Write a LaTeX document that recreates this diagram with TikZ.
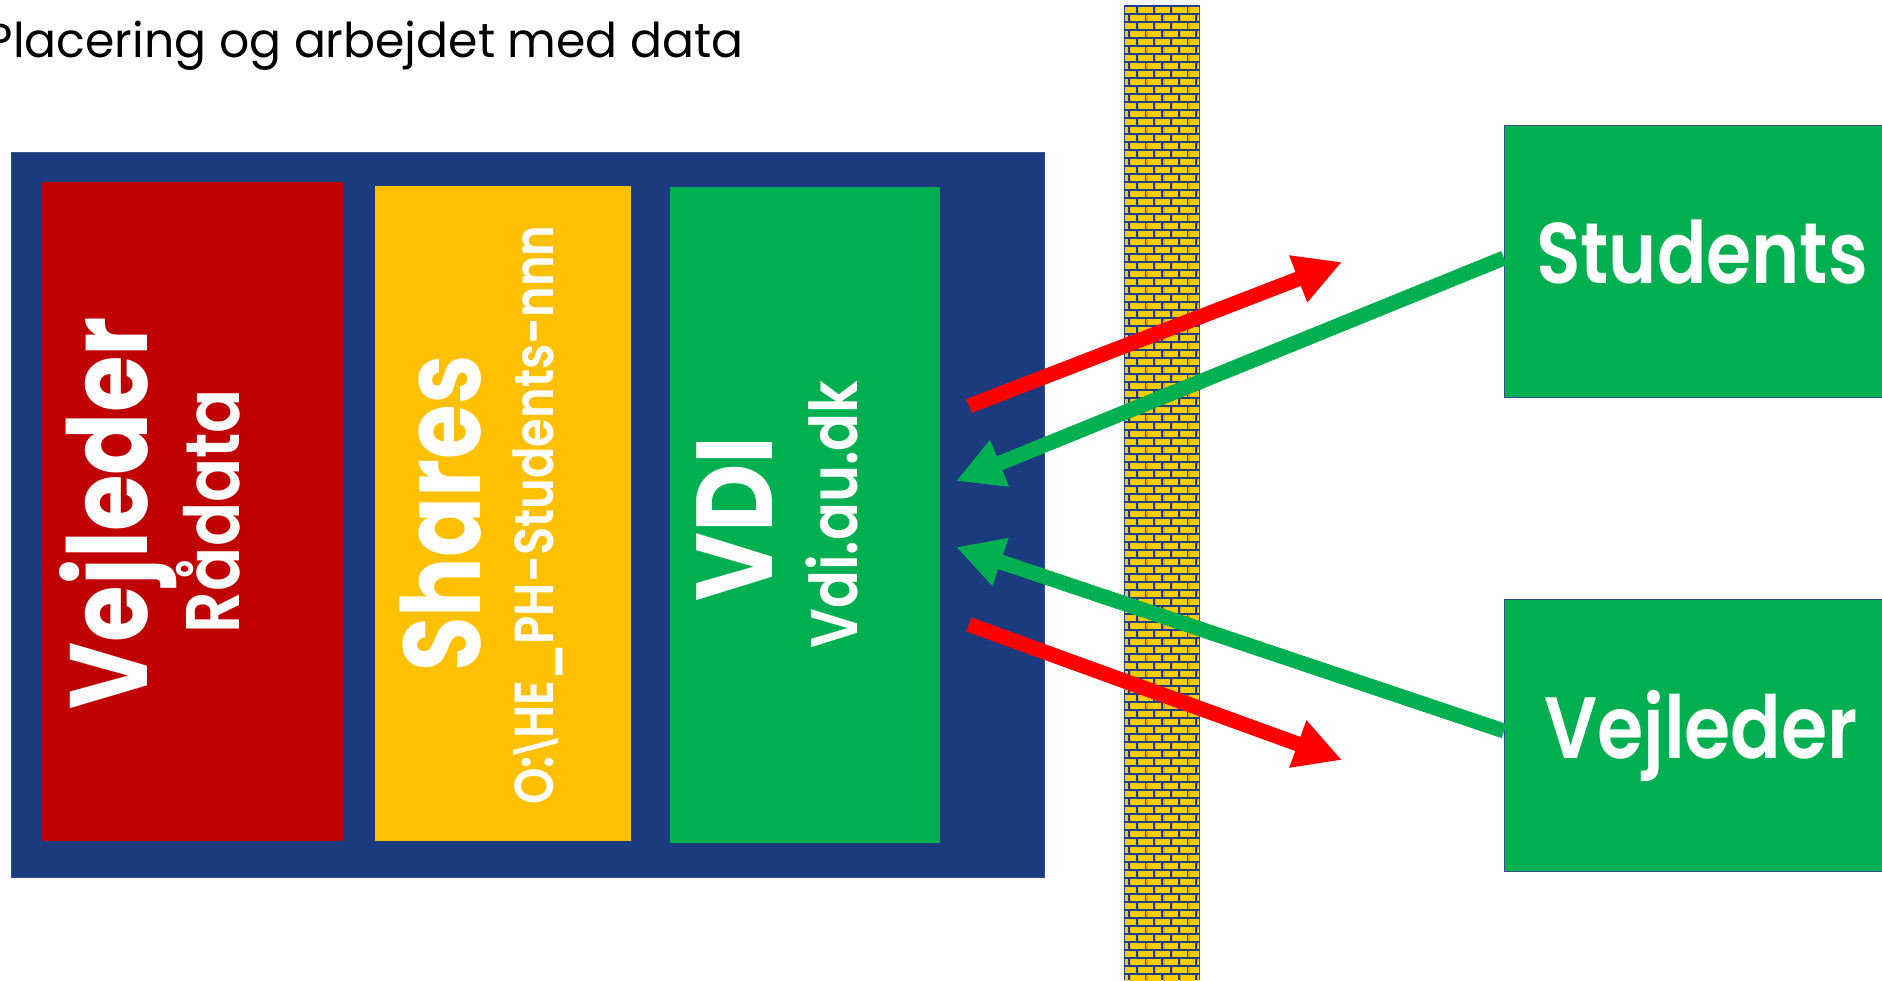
\documentclass[tikz,border=0pt]{standalone}
\usepackage{graphicx}
\usepackage{fontspec}
\usetikzlibrary{arrows.meta}
\setmainfont{Poppins}
\IfFontExistsTF{Poppins Medium}{\newfontfamily\pmed{Poppins Medium}}{\newfontfamily\pmed{Poppins}[FakeBold=1.5]}
\IfFontExistsTF{Poppins SemiBold}{\newfontfamily\psemi{Poppins SemiBold}}{\newfontfamily\psemi{Poppins}[FakeBold=2.5]}
\newfontfamily\bslfont{DejaVu Sans}
\definecolor{navy}{HTML}{1A3C7F}
\definecolor{outl}{HTML}{2F528F}
\definecolor{boxred}{HTML}{C00000}
\definecolor{boxgold}{HTML}{FFC000}
\definecolor{boxgreen}{HTML}{00B050}
\definecolor{arrred}{HTML}{FF0000}
\definecolor{mortar}{HTML}{1F3D88}
\definecolor{brick}{HTML}{FFCC00}
\definecolor{brickdark}{HTML}{D2A800}
\newlength\fitlen
\newcommand\fitto[2]{\sbox0{#2}\fitlen=\wd0\relax\pgfmathsetmacro\fitratio{#1/\fitlen}\scalebox{\fitratio}[1]{\usebox0}}
\tikzset{
  panel/.style={anchor=north west, inner sep=0pt, outer sep=0pt, draw=outl, line width=1pt},
  vtxt/.style={rotate=90, anchor=base, inner sep=0pt, text=white},
  htxt/.style={anchor=base, inner sep=0pt, text=white},
  fatarrow/.style={line width=15pt, -{Triangle[length=47pt,width=47pt]}},
}
\begin{document}
\begin{tikzpicture}[x=1pt,y=-1pt]
\clip (0,0) rectangle (1882,980);
\fill[white] (0,0) rectangle (1882,980);
% title
\node[anchor=base east, inner sep=0pt] (title) at (744,57) {\fontsize{48}{56}\selectfont\fitto{758}{Placering og arbejdet med data}};
% left frame and panels
\node[panel, fill=navy, minimum width=1033pt, minimum height=725pt] (frame) at (11,152) {};
\node[panel, fill=boxred, draw=none, minimum width=302pt, minimum height=659pt] (redbox) at (42,182) {};
\node[panel, fill=boxgold, draw=none, minimum width=256pt, minimum height=655pt] (goldbox) at (375,186) {};
\node[panel, fill=boxgreen, draw=none, minimum width=270pt, minimum height=656pt] (vdibox) at (670,187) {};
\node[vtxt] (vejl) at (147,513) {\fontsize{110}{120}\selectfont\bfseries\fitto{392}{Vejleder}};
\node[vtxt] (raa) at (239,511) {\fontsize{76}{80}\selectfont\psemi\fitto{244}{Rådata}};
\node[vtxt] (shar) at (480,513.5) {\fontsize{109}{120}\selectfont\bfseries\fitto{316}{Shares}};
\node[vtxt] (opath) at (553,515) {\fontsize{55}{60}\selectfont\psemi\fitto{579}{O:{\bslfont\bfseries\textbackslash}HE\_PH-Students-nnn}};
\node[vtxt] (vdi) at (772.5,519) {\fontsize{108}{120}\selectfont\bfseries\fitto{165}{VDI}};
\node[vtxt] (vdiurl) at (857,514.5) {\fontsize{66}{70}\selectfont\psemi\fitto{268}{Vdi.au.dk}};
% wall
\node[panel, fill=mortar, draw=none, minimum width=76pt, minimum height=975pt] (wall) at (1124,5) {};
\begin{scope}
\clip (1125,5) rectangle (1199,980);
\foreach \r in {0,...,122} {
  \pgfmathsetmacro\yy{6.7+8*\r}
  \pgfmathsetmacro\xo{mod(\r,2)==0 ? 1121.2 : 1112.8}
  \foreach \c in {0,...,5} {
    \fill[brick] ({\xo+16.8*\c},\yy) rectangle ++(15,6);
    \fill[brickdark] ({\xo+16.8*\c},\yy) rectangle ++(1.3,6);
  }
}
\end{scope}
% right boxes
\node[panel, fill=boxgreen, minimum width=400pt, minimum height=272pt] (stud) at (1504,125) {};
\node[panel, fill=boxgreen, minimum width=400pt, minimum height=272pt] (vejbox) at (1504,599) {};
\node[htxt] (studtxt) at (1702,283) {\fontsize{86}{90}\selectfont\psemi\fitto{332}{Students}};
\node[htxt] (vejtxt) at (1701,758) {\fontsize{87}{90}\selectfont\psemi\fitto{314}{Vejleder}};
% arrow end points
\coordinate (r1s) at (969,406);
\coordinate (r1e) at (1342,262);
\coordinate (g1s) at (1504,258);
\coordinate (g1e) at (956,481);
\coordinate (g2s) at (1504,731);
\coordinate (g2e) at (956,547);
\coordinate (r2s) at (969,624.5);
\coordinate (r2e) at (1342,760);
\draw[fatarrow, arrred] (r1s) -- (r1e);
\draw[fatarrow, boxgreen] (g1s) -- (g1e);
\draw[fatarrow, boxgreen] (g2s) -- (g2e);
\draw[fatarrow, arrred] (r2s) -- (r2e);
\end{tikzpicture}
\end{document}
